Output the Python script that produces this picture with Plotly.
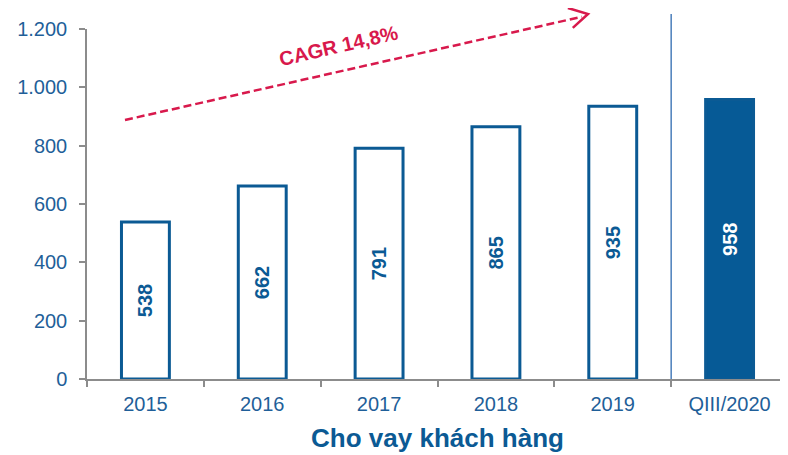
import plotly.graph_objects as go

categories = ["2015", "2016", "2017", "2018", "2019", "QIII/2020"]
values = [538, 662, 791, 865, 935, 958]
fill_colors = ["white", "white", "white", "white", "white", "#065A96"]
label_colors = ["#0B5A94"] * 5 + ["white"]
y_ticks = [0, 200, 400, 600, 800, 1000, 1200]
axis_title = "Cho vay khách hàng"
cagr_text = "CAGR 14,8%"

BLUE = "#0B5A94"
TICK_BLUE = "#1F5F99"
RED = "#D8194C"
GRAY = "#8C8C8C"

fig = go.Figure()
fig.add_trace(go.Bar(
    x=categories, y=values,
    width=0.41,
    marker=dict(color=fill_colors, line=dict(color=BLUE, width=3)),
    text=[str(v) for v in values],
    textposition="inside",
    insidetextanchor="middle",
    constraintext="none",
    textangle=-90,
    textfont=dict(family="Liberation Sans, Arial", size=20, color=label_colors, weight="bold"),
    hoverinfo="skip",
))

# separator line between 2019 and QIII/2020
fig.add_shape(type="line", xref="x", yref="paper", x0=4.5, x1=4.5, y0=0, y1=1.043,
              line=dict(color="#4A7EBB", width=1.5), layer="below")

# CAGR dashed arrow
fig.add_shape(type="line", xref="paper", yref="paper",
              x0=0.0542, y0=0.74, x1=0.706, y1=1.035,
              line=dict(color=RED, width=2.5, dash="8px,4px"))
fig.add_shape(type="path", xref="paper", yref="paper",
              path="M 0.686 1.06 L 0.7147 1.043 L 0.693 1.003",
              line=dict(color=RED, width=2.5))
fig.add_annotation(x=1.649, y=1141, xref="x", yref="y", text=cagr_text,
                   showarrow=False, textangle=-13,
                   font=dict(family="Liberation Sans, Arial", size=20, color=RED, weight="bold"))

# page has an 8px body margin, so the figure is 8px smaller and shifted
fig.update_layout(
    width=780, height=447,
    margin=dict(l=79, r=0, t=21, b=76, autoexpand=False),
    paper_bgcolor="white", plot_bgcolor="white",
    separators=",.",
    showlegend=False,
    font=dict(family="Liberation Sans, Arial", color=TICK_BLUE),
)
fig.update_xaxes(
    type="category", automargin=False,
    range=[-0.5, 5.5],
    showline=True, linecolor=GRAY, linewidth=1.5,
    ticks="outside", tickson="boundaries", ticklen=6, tickcolor=GRAY, tickwidth=1.5,
    tickfont=dict(size=20, color=TICK_BLUE),
    ticklabelstandoff=6,
    showgrid=False, zeroline=False,
    title=dict(text=axis_title, font=dict(size=26, color=BLUE, weight="bold"), standoff=15),
)
fig.update_yaxes(
    range=[0, 1200], automargin=False,
    tickvals=y_ticks, tickformat=",",
    showline=True, linecolor=GRAY, linewidth=1.5,
    ticks="outside", ticklen=6, tickcolor=GRAY, tickwidth=1.5,
    tickfont=dict(size=20, color=TICK_BLUE),
    showgrid=False, zeroline=False,
    ticklabelstandoff=8,
)

fig.write_html("out.html")
